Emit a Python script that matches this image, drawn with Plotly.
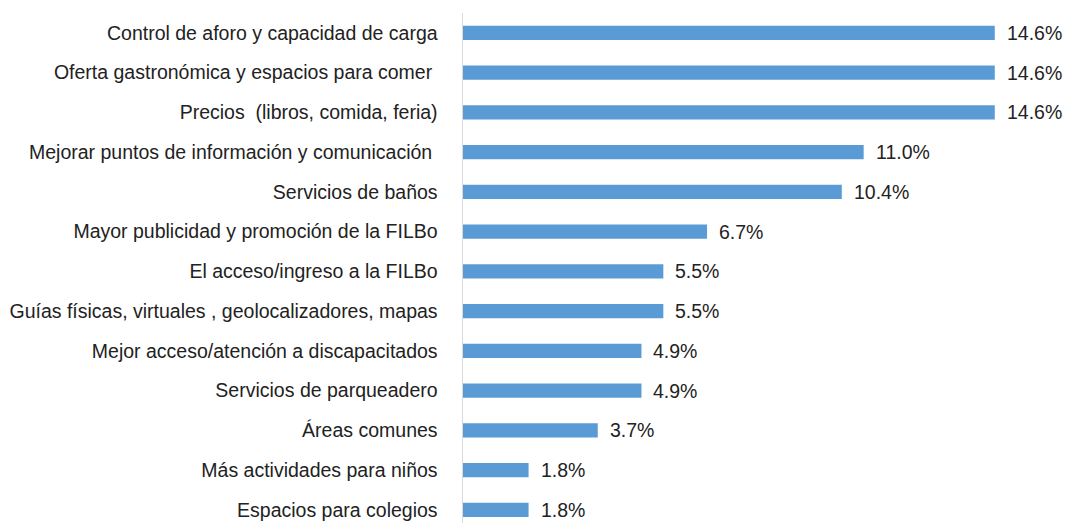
import plotly.graph_objects as go

categories = [
    "Control de aforo y capacidad de carga",
    "Oferta gastronómica y espacios para comer ",
    "Precios  (libros, comida, feria)",
    "Mejorar puntos de información y comunicación ",
    "Servicios de baños",
    "Mayor publicidad y promoción de la FILBo",
    "El acceso/ingreso a la FILBo",
    "Guías físicas, virtuales , geolocalizadores, mapas",
    "Mejor acceso/atención a discapacitados",
    "Servicios de parqueadero",
    "Áreas comunes",
    "Más actividades para niños",
    "Espacios para colegios",
]
values = [14.6, 14.6, 14.6, 11.0, 10.4, 6.7, 5.5, 5.5, 4.9, 4.9, 3.7, 1.8, 1.8]
labels = [f"{v:.1f}%" for v in values]

FONT = "Liberation Sans Narrow, Arial Narrow, Liberation Sans, Arial, sans-serif"

fig = go.Figure(go.Bar(
    x=values, y=categories, orientation="h",
    marker=dict(color="#5B9BD5", line=dict(width=0)),
    width=0.36, hoverinfo="skip",
))

for c, v, t in zip(categories, values, labels):
    fig.add_annotation(x=v, y=c, text=t, showarrow=False, xanchor="left",
                       xshift=10, font=dict(family=FONT, size=19.5, color="#222222"))

fig.update_layout(
    width=1067, height=523,
    margin=dict(l=463, r=3, t=13, b=0),
    paper_bgcolor="white", plot_bgcolor="white",
    showlegend=False,
    font=dict(family=FONT, size=19.5, color="#222222"),
    xaxis=dict(range=[0, 16.5], visible=False, showgrid=False, zeroline=False),
    yaxis=dict(type="category", categoryorder="array", categoryarray=categories,
               range=[12.33, -0.5], showline=True, linecolor="#d9d9d9", linewidth=1.5,
               showgrid=False, zeroline=False, ticks="", ticklabelstandoff=20,
               tickfont=dict(family=FONT, size=19.5, color="#222222"), automargin=False),
)

fig.write_html("out.html", config={"displayModeBar": False, "staticPlot": True},
               post_script="document.body.style.margin='0';document.body.style.overflow='hidden';")
